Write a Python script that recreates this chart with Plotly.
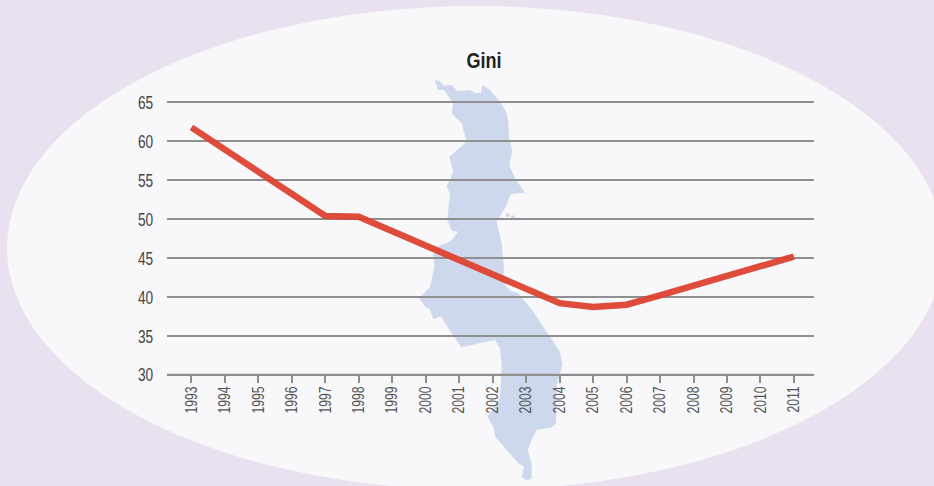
import plotly.graph_objects as go

W, H = 934, 486
title = "Gini"
years = [1993, 1997, 1998, 2004, 2005, 2006, 2007, 2011]
gini = [61.8, 50.4, 50.3, 39.2, 38.7, 39.0, 40.2, 45.2]
x_ticks = list(range(1993, 2012))
y_ticks = [30, 35, 40, 45, 50, 55, 60, 65]

# decorative backdrop silhouette, in page pixels (from zoom crops)
upper = [(104,120),(118,122),(132,137),(155,135),(172,153),(210,150),(225,158),(243,160),(247,135),(270,150),
         (300,185),(318,215),(325,245),(328,300),(337,330),(328,378),(348,420),(375,458),(332,462),(320,495),
         (290,545),(305,610),(312,690)]
lower = [(310,60),(315,105),(330,122),(355,130),(400,185),(480,305),(487,345),(470,405),(468,520),(455,532),
         (410,540),(395,570),(383,600),(395,640),(395,685),(380,692),(365,680),(372,650),(355,640),(285,560),
         (280,530),(262,500),(300,440),(305,350),(300,295),(285,270),(245,278),(185,292),(160,258),(122,198),
         (100,208),(90,178),(73,168),(58,145),(90,110),(103,50),(100,0)]
upper_left = [(98,650),(110,620),(150,605),(175,575),(155,572),(142,540),(150,460),(140,440),(160,395),(148,350),
              (200,305),(185,250),(155,220),(160,190),(132,150),(115,150)]

L, T, PW, PH = 167, 101, 647, 274
def fx(p): return (p - L) / PW
def fy(p): return (T + PH - p) / PH

pts = [(400 + a/3, 40 + b/3) for a, b in upper] + [(400 + a/3, 250 + b/3) for a, b in lower] + \
      [(400 + a/3, 40 + b/3) for a, b in upper_left]
map_path = "M " + " L ".join(f"{fx(a):.5f},{fy(b):.5f}" for a, b in pts) + " Z"

BG, OVAL, MAP, GRID = "#e9e1ef", "#f8f8fb", "#ced8ec", "#8f8f8f"
shapes = [
    dict(type="circle", xref="paper", yref="paper", x0=fx(7), x1=fx(944), y0=fy(6), y1=fy(490),
         fillcolor=OVAL, line_width=0, layer="below"),
    dict(type="path", xref="paper", yref="paper", path=map_path, fillcolor=MAP, line_width=0, layer="below"),
    dict(type="line", xref="paper", yref="y", x0=0, x1=1, y0=y_ticks[0], y1=y_ticks[0],
         line=dict(color=GRID, width=2), layer="between"),
]
for cx, cy in [(507.7, 215.3), (513, 217.3)]:
    shapes.append(dict(type="circle", xref="paper", yref="paper", x0=fx(cx-2), x1=fx(cx+2), y0=fy(cy-2), y1=fy(cy+2),
                       fillcolor=MAP, line_width=0, layer="below"))

fig = go.Figure(go.Scatter(x=years, y=gini, mode="lines",
                           line=dict(color="rgba(221,66,50,0.95)", width=6.5, shape="linear"),
                           hoverinfo="skip"))

FONT = "Liberation Sans, Arial, sans-serif"
fig.update_layout(
    width=W, height=H, autosize=False, showlegend=False,
    paper_bgcolor=BG, plot_bgcolor="rgba(0,0,0,0)",
    margin=dict(l=L, r=W-L-PW, t=T, b=H-T-PH, pad=0),
    shapes=shapes,
    title=dict(text=f"<b>{title}</b>", x=484/W, xanchor="center", y=1-60/H, yanchor="middle",
               font=dict(family=FONT, size=22, color="#222222")),
    xaxis=dict(range=[1992.27, 2011.6], tickmode="array", tickvals=x_ticks, ticktext=[str(v) for v in x_ticks],
               tickangle=-90, ticks="outside", ticklen=7, tickwidth=2, tickcolor=GRID,
               ticklabelstandoff=-3,
               showgrid=False, zeroline=False, showline=True, linecolor=GRID, linewidth=1,
               tickfont=dict(family=FONT, size=16, color="#555555")),
    yaxis=dict(range=[29.97, 65.19], tickmode="array", tickvals=y_ticks, ticks="outside", ticklen=9,
               tickcolor="rgba(0,0,0,0)", showgrid=True,
               gridcolor=GRID, gridwidth=2, zeroline=False, showline=False,
               tickfont=dict(family=FONT, size=19, color="#444444")),
)
# Page flush to the window, and the condensed look of the original type (no condensed face is installed).
post = """
document.documentElement.style.margin='0';
document.body.style.margin='0';
document.body.style.overflow='hidden';
document.body.style.background='%s';
function squeeze(sel,k){document.querySelectorAll(sel).forEach(function(t){
  var n=t.getComputedTextLength();
  t.setAttribute('textLength',(n*k).toFixed(2));
  t.setAttribute('lengthAdjust','spacingAndGlyphs');
});}
squeeze('.xtick text',0.76);
squeeze('.ytick text',0.72);
squeeze('.gtitle',0.82);
""" % BG
fig.write_html("out.html", post_script=post, config=dict(displayModeBar=False))
